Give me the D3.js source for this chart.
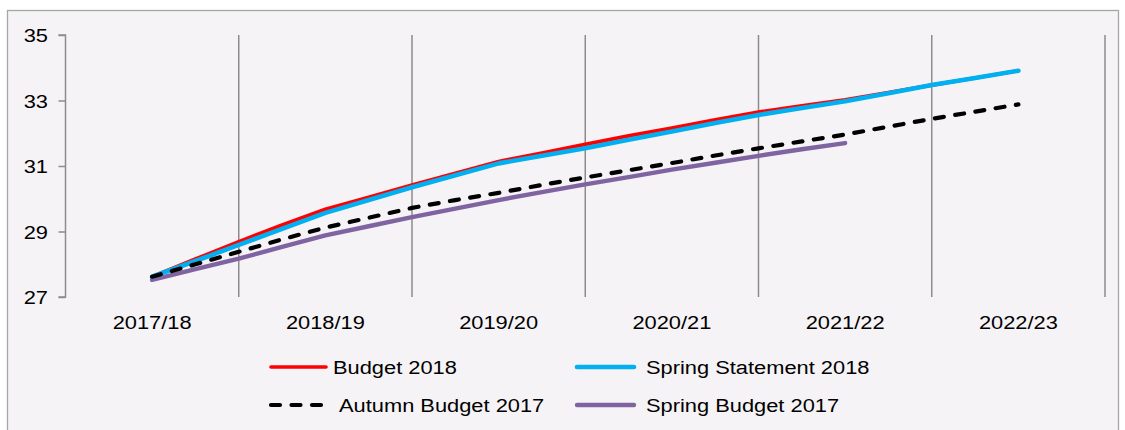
<!DOCTYPE html>
<html>
<head>
<meta charset="utf-8">
<script src="https://cdn.jsdelivr.net/npm/d3@7"></script>
<style>
  html, body { margin: 0; padding: 0; background: #ffffff; }
  svg { display: block; }
  text { font-family: "Liberation Sans", Arial, sans-serif; fill: #000; }
</style>
</head>
<body>
<svg id="chart" width="1125" height="430"></svg>
<script>
// Financial years on the x axis
const categories = ["2017/18", "2018/19", "2019/20", "2020/21", "2021/22", "2022/23"];
// y axis ticks
const yTicks = [27, 29, 31, 33, 35];

// Quarterly profiles, first point at 2017/18
const budget2018 = [27.62, 28.16, 28.69, 29.20, 29.68, 30.05, 30.42, 30.78, 31.14, 31.40, 31.66,
                    31.92, 32.16, 32.41, 32.65, 32.84, 33.02, 33.24, 33.47, 33.69, 33.91];
const springStatement2018 = [27.62, 28.10, 28.59, 29.08, 29.57, 29.96, 30.35, 30.72, 31.08, 31.31, 31.54,
                    31.80, 32.05, 32.31, 32.56, 32.77, 32.98, 33.22, 33.47, 33.69, 33.91];
const autumnBudget2017 = [27.62, 28.00, 28.38, 28.76, 29.12, 29.42, 29.72, 29.96, 30.18, 30.42, 30.65,
                    30.87, 31.09, 31.32, 31.54, 31.75, 31.96, 32.20, 32.44, 32.66, 32.88];
const springBudget2017 = [27.52, 27.85, 28.17, 28.53, 28.88, 29.16, 29.44, 29.70, 29.96, 30.20, 30.44,
                    30.66, 30.89, 31.10, 31.31, 31.51, 31.70];

const seriesNames = ["Budget 2018", "Spring Statement 2018", "Autumn Budget 2017", "Spring Budget 2017"];

const series = [
  { name: seriesNames[0], values: budget2018, color: "#ff0000", width: 3.6, dash: null },
  { name: seriesNames[1], values: springStatement2018, color: "#00b0f0", width: 4.6, dash: null },
  { name: seriesNames[2], values: autumnBudget2017, color: "#000000", width: 4.2, dash: "9,11.5" },
  { name: seriesNames[3], values: springBudget2017, color: "#8064a2", width: 4.4, dash: null }
];

const svg = d3.select("#chart");
const SX = 1.15; // horizontal stretch of the lettering

function label(sel, x, yPos, str, anchor) {
  return sel.append("text")
    .attr("transform", `translate(${x},${yPos}) scale(${SX},1)`)
    .attr("text-anchor", anchor || "start")
    .style("font-size", "19px")
    .text(str);
}

// frame and plot background
svg.append("rect")
  .attr("x", 7.5).attr("y", 10.5)
  .attr("width", 1111).attr("height", 440)
  .attr("fill", "#f6f3f6")
  .attr("stroke", "#a6a6a6")
  .attr("stroke-width", 1.3);

const plotLeft = 65.5, plotRight = 1105, plotTop = 35, plotBottom = 297;

const xBand = d3.scaleBand().domain(categories).range([plotLeft, plotRight]).padding(0);
const xYear = d3.scaleLinear().domain([-0.5, categories.length - 0.5]).range([plotLeft, plotRight]);
const y = d3.scaleLinear().domain([27, 35]).range([plotBottom, plotTop]);

// vertical gridlines at category boundaries
svg.append("g").selectAll("line.grid")
  .data(categories)
  .join("line")
  .attr("class", "grid")
  .attr("x1", d => xBand(d) + xBand.bandwidth())
  .attr("x2", d => xBand(d) + xBand.bandwidth())
  .attr("y1", plotTop).attr("y2", plotBottom)
  .attr("stroke", "#8c8c8c")
  .attr("stroke-width", 1.5);

// y axis
const yAxis = d3.axisLeft(y).tickValues(yTicks).tickSize(7).tickFormat("");
const ya = svg.append("g").attr("transform", `translate(${plotLeft},0)`).call(yAxis);
ya.select(".domain").attr("stroke", "#8c8c8c").attr("stroke-width", 1.5)
  .attr("d", `M-7,${plotTop}H0V${plotBottom}H-7`);
ya.selectAll(".tick line").attr("stroke", "#8c8c8c").attr("stroke-width", 1.5);
yTicks.forEach(t => label(svg, 48, y(t) + 7, String(t), "end"));

// x labels
categories.forEach(c => label(svg, xBand(c) + xBand.bandwidth() / 2, 329, c, "middle"));

// series lines
const line = d3.line()
  .x((d, i) => xYear(i / 4))
  .y(d => y(d));

const drawOrder = [3, 0, 1, 2];
drawOrder.forEach(k => {
  const s = series[k];
  svg.append("path")
    .datum(s.values)
    .attr("d", line)
    .attr("fill", "none")
    .attr("stroke", s.color)
    .attr("stroke-width", s.width)
    .attr("stroke-linejoin", "round")
    .attr("stroke-linecap", "round")
    .attr("stroke-dasharray", s.dash);
});

// legend
const legendPos = [
  { lx: 271, tx: 333, y: 367 },
  { lx: 577, tx: 646, y: 367 },
  { lx: 271, tx: 339, y: 405 },
  { lx: 577, tx: 646, y: 405 }
];
const legendLen = [55, 57, 55, 57];
series.forEach((s, i) => {
  const p = legendPos[i];
  svg.append("line")
    .attr("x1", p.lx).attr("x2", p.lx + legendLen[i])
    .attr("y1", p.y).attr("y2", p.y)
    .attr("stroke", s.color)
    .attr("stroke-width", s.width)
    .attr("stroke-linecap", "round")
    .attr("stroke-dasharray", s.dash);
  label(svg, p.tx, p.y + 7, s.name, "start");
});
</script>
</body>
</html>
